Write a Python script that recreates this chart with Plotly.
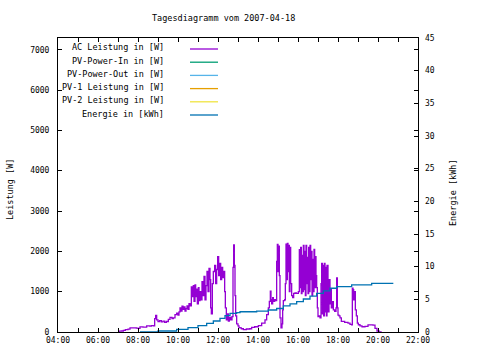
import plotly.graph_objects as go

DAY = "2007-04-18 "

# ---- AC Leistung [W] (time, value) ----
ac_times = ["07:00","07:03","07:10","07:16","07:22","07:30","07:36","07:45","07:55","08:00",
            "08:06","08:15","08:26","08:35","08:40","08:46","08:50","08:53","08:56","09:00",
            "09:05","09:10","09:15","09:20","09:25","09:31","09:36","09:42","09:46","09:51",
            "09:56","10:00","10:03","10:06","10:09","10:12","10:15","10:18","10:21","10:24",
            "10:27","10:30","10:33","10:36","10:40","10:43","10:46","10:48","10:51","10:53",
            "10:56","10:58","11:01","11:03","11:06","11:09","11:12","11:15","11:18","11:21",
            "11:24","11:27","11:30","11:33","11:36","11:38","11:40","11:43","11:46","11:50",
            "11:53","11:56","11:59","12:02","12:05","12:08","12:11","12:14","12:17","12:20",
            "12:22","12:25","12:28","12:31","12:34","12:38","12:42","12:45","12:47","12:49",
            "12:51","12:53","12:56","13:00","13:03","13:06","13:10","13:16","13:25","13:35",
            "13:41","13:50","14:01","14:11","14:21","14:26","14:31","14:34","14:37","14:39",
            "14:41","14:44","14:46","14:50","14:54","14:56","14:58","15:00","15:02","15:04",
            "15:06","15:09","15:12","15:14","15:16","15:20","15:22","15:24","15:26","15:28",
            "15:30","15:32","15:34","15:36","15:38","15:41","15:44","15:47","15:51","15:55",
            "16:01","16:04","16:06","16:08","16:10","16:12","16:14","16:16","16:18","16:20",
            "16:22","16:24","16:26","16:28","16:30","16:32","16:34","16:36","16:38","16:40",
            "16:42","16:44","16:46","16:48","16:50","16:52","16:54","16:56","16:58","17:00",
            "17:03","17:06","17:09","17:11","17:13","17:15","17:17","17:19","17:21","17:23",
            "17:25","17:27","17:30","17:33","17:36","17:38","17:40","17:43","17:46","17:50",
            "17:54","17:56","17:58","18:00","18:03","18:06","18:10","18:20","18:30","18:36",
            "18:41","18:43","18:45","18:47","18:50","18:52","18:55","18:58","19:01","19:06",
            "19:12","19:21","19:30","19:45","19:51","19:57","20:03","20:11"]
ac_values = [0,20,25,40,60,70,100,100,95,90,
             125,120,150,145,160,150,330,410,300,260,
             280,250,270,240,260,315,365,330,350,430,
             470,420,500,600,520,640,560,620,520,580,
             650,560,700,650,1120,880,1150,760,1170,880,
             1060,700,1100,780,1000,800,1250,900,1380,800,
             1150,1500,1000,1580,1300,600,450,1200,1500,1650,
             1200,1550,1870,1400,1700,1300,1600,1350,1500,1000,
             600,300,450,270,360,300,380,1600,2160,1650,
             900,400,200,150,110,100,80,60,75,80,
             115,130,160,220,300,430,600,760,1010,800,
             700,850,760,800,780,1750,2170,1500,2130,1400,
             350,100,200,550,780,800,1200,2180,1300,2200,
             1500,2150,1000,2100,1200,900,850,960,970,960,
             1000,2040,1100,2100,950,1900,1000,2150,1050,2000,
             900,2150,1200,1850,950,2100,1000,2150,1300,2000,
             900,1800,1000,2050,1100,1870,1400,1100,600,380,
             400,350,1200,1700,450,1650,400,1700,500,1600,
             400,1650,500,1300,700,1050,600,750,550,510,
             600,1340,600,420,400,350,265,240,220,190,
             175,1085,1050,800,1000,550,400,220,180,150,
             130,140,175,170,90,25,0,0]

# ---- Energie [kWh] ----
en_times = ["08:06","09:00","09:56","10:30","11:00","11:26","11:46","12:06","12:21","12:36",
            "12:56","13:06","13:56","14:31","14:56","15:16","15:36","15:56","16:16","16:36",
            "16:56","17:16","17:36","17:56","18:41","19:41","20:46"]
en_values = [0.0,0.15,0.4,0.66,0.97,1.33,1.68,2.1,2.5,2.86,
             2.96,3.1,3.2,3.37,3.6,4.0,4.3,4.65,5.05,5.5,
             5.9,6.3,6.7,6.95,7.2,7.45,7.45]

# empty series (no data visible in the chart)
pv_in_values = []
pv_out_values = []
pv1_values = []
pv2_values = []

legend_names = ["AC Leistung in [W]", "PV-Power-In in [W]", "PV-Power-Out in [W]",
                "PV-1 Leistung in [W]", "PV-2 Leistung in [W]", "Energie in [kWh]"]
legend_colors = ["#9400d3", "#009e73", "#56b4e9", "#e69f00", "#f0e442", "#0072b2"]

x_ticks = ["04:00","06:00","08:00","10:00","12:00","14:00","16:00","18:00","20:00","22:00"]
y_ticks = [0,1000,2000,3000,4000,5000,6000,7000]
y2_ticks = [0,5,10,15,20,25,30,35,40,45]

FONT = "DejaVu Sans Mono"
W, H = 480, 360
L, R, T, B = 58, 418, 38, 332

fig = go.Figure()
fig.add_trace(go.Scatter(x=[DAY + t for t in ac_times], y=ac_values, mode="lines",
                         line=dict(color=legend_colors[0], width=1.3, shape="hv"),
                         name=legend_names[0]))
for vals, nm, col in zip([pv_in_values, pv_out_values, pv1_values, pv2_values],
                         legend_names[1:5], legend_colors[1:5]):
    fig.add_trace(go.Scatter(x=[], y=vals, mode="lines", line=dict(color=col, width=1.3),
                             name=nm))
fig.add_trace(go.Scatter(x=[DAY + t for t in en_times], y=en_values, mode="lines",
                         line=dict(color=legend_colors[5], width=1.3, shape="hv"),
                         name=legend_names[5], yaxis="y2"))

def px_x(p):
    return (p - L) / (R - L)

def px_y(p):
    return (B - p) / (B - T)

annotations = []
shapes = []
row_y = [47.5, 60.7, 73.9, 87.1, 100.3, 113.5]
for nm, col, yy in zip(legend_names, legend_colors, row_y):
    annotations.append(dict(text=nm, xref="paper", yref="paper", x=px_x(166), y=px_y(yy),
                            xanchor="right", yanchor="middle", showarrow=False,
                            font=dict(family=FONT, size=8.5, color="black")))
    shapes.append(dict(type="line", xref="paper", yref="paper",
                       x0=px_x(190), x1=px_x(218), y0=px_y(yy + 1.5), y1=px_y(yy + 1.5),
                       line=dict(color=col, width=1.3)))

annotations.append(dict(text="Leistung [W]", xref="paper", yref="paper", x=px_x(10), y=px_y(190),
                        textangle=-90, showarrow=False, xanchor="center", yanchor="middle",
                        font=dict(family=FONT, size=8.5, color="black")))
annotations.append(dict(text="Energie [kWh]", xref="paper", yref="paper", x=px_x(453), y=px_y(193),
                        textangle=-90, showarrow=False, xanchor="center", yanchor="middle",
                        font=dict(family=FONT, size=8.5, color="black")))
annotations.append(dict(text="Tagesdiagramm vom 2007-04-18", xref="paper", yref="paper",
                        x=px_x(223), y=px_y(18), showarrow=False, xanchor="center", yanchor="middle",
                        font=dict(family=FONT, size=8.5, color="black")))

fig.update_layout(
    width=W, height=H,
    margin=dict(l=L, r=W - R, t=T, b=H - B, autoexpand=False),
    paper_bgcolor="white", plot_bgcolor="white",
    showlegend=False,
    font=dict(family=FONT, size=8, color="black"),
    annotations=annotations, shapes=shapes,
    xaxis=dict(type="date", range=[DAY + "04:00", DAY + "22:00"],
               tickvals=[DAY + t for t in x_ticks], ticktext=x_ticks,
               ticks="inside", ticklen=4, tickcolor="black",
               minor=dict(dtick=3600000, ticks="inside", ticklen=4, tickcolor="black"),
               showline=True, linecolor="black", linewidth=1, mirror="ticks",
               showgrid=False, zeroline=False, tickfont=dict(family=FONT, size=8)),
    yaxis=dict(range=[0, 7290], tickvals=y_ticks, ticks="inside", ticklen=4, tickcolor="black",
               showline=True, linecolor="black", linewidth=1, mirror="ticks",
               showgrid=False, zeroline=False, tickfont=dict(family=FONT, size=8),
               ticklabelstandoff=6),
    yaxis2=dict(range=[0, 45], tickvals=y2_ticks, overlaying="y", side="right",
                ticks="inside", ticklen=4, tickcolor="black",
                showline=False, showgrid=False, zeroline=False,
                tickfont=dict(family=FONT, size=8), ticklabelstandoff=6),
)

fig.write_html("out.html", config={"displayModeBar": False},
               post_script="document.body.style.margin='0';document.body.style.padding='0';")
